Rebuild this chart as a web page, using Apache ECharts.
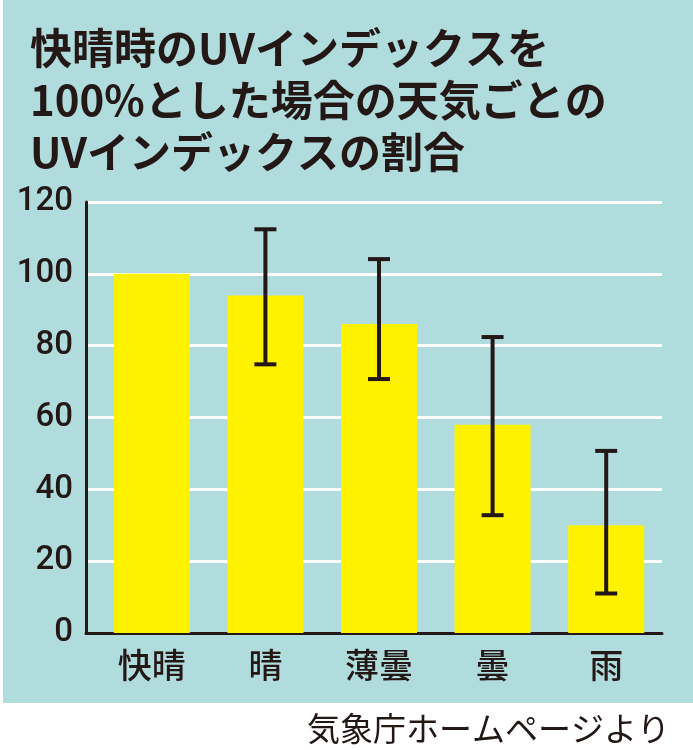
<!DOCTYPE html>
<html>
<head>
<meta charset="utf-8">
<script src="https://cdn.jsdelivr.net/npm/echarts@6/dist/echarts.min.js"></script>
<style>
html,body{margin:0;padding:0;background:#ffffff;}
#chart{width:693px;height:750px;}
</style>
</head>
<body>
<div id="chart"></div>
<script>
var titleLines = ['快晴時のUVインデックスを', '100%とした場合の天気ごとの', 'UVインデックスの割合'];
var categories = ['快晴', '晴', '薄曇', '曇', '雨'];
var values = [100, 94, 86, 58, 30];
var errLow = [null, 74.8, 70.7, 32.8, 11.0];
var errHigh = [null, 112.4, 104.1, 82.4, 50.7];
var yTicks = [0, 20, 40, 60, 80, 100, 120];
var sourceText = '気象庁ホームページより';

var teal = '#b0dcdd';
var ink = '#231816';
var yellow = '#fff200';
var cjk = '"Noto Sans CJK JP", "Noto Sans", sans-serif';
var digitFont = '"Roboto", "DejaVu Sans Condensed", sans-serif';

var errData = [];
for (var i = 0; i < categories.length; i++) {
  if (errLow[i] != null) errData.push([i, errLow[i], errHigh[i]]);
}

var chart = echarts.init(document.getElementById('chart'), null, {renderer: 'canvas'});
var gTop = 202, gHeight = 431;
chart.setOption({
  backgroundColor: '#ffffff',
  animation: false,
  graphic: [
    {type: 'rect', left: 3, top: 0, z: -10, shape: {width: 690, height: 703}, style: {fill: teal}},
    {type: 'text', left: 307, top: 712, style: {text: sourceText, font: '33px ' + cjk, fill: ink}}
  ],
  title: {
    text: titleLines.join('\n'),
    left: 25, top: 17,
    textStyle: {fontFamily: cjk, fontSize: 42, fontWeight: 'bold', lineHeight: 52, color: ink}
  },
  grid: [
    {left: 86, right: 31, top: gTop, height: gHeight},
    {left: 95, right: 30, top: gTop, height: gHeight}
  ],
  xAxis: [
    {gridIndex: 0, type: 'value', min: 0, max: 1,
     axisLine: {show: true, onZero: false, lineStyle: {color: ink, width: 3}},
     axisTick: {show: false}, axisLabel: {show: false}, splitLine: {show: false}},
    {gridIndex: 1, type: 'category', data: categories,
     axisLine: {show: false}, axisTick: {show: false},
     axisLabel: {margin: 15, fontFamily: cjk, fontSize: 34, fontWeight: 500, color: ink}}
  ],
  yAxis: [
    {gridIndex: 0, type: 'value', min: 0, max: 120, interval: 20,
     axisLine: {show: true, lineStyle: {color: ink, width: 3}},
     axisTick: {show: false},
     axisLabel: {margin: 13, fontFamily: digitFont, fontSize: 33, fontWeight: 500, color: ink,
       formatter: function (v) { return yTicks.indexOf(v) >= 0 ? String(v) : ''; }},
     splitLine: {show: true, lineStyle: {color: '#ffffff', width: 3}}},
    {gridIndex: 1, type: 'value', min: 0, max: 120, interval: 20, show: false}
  ],
  series: [
    {type: 'bar', xAxisIndex: 1, yAxisIndex: 1, data: values, barWidth: 76,
     itemStyle: {color: yellow}, z: 2},
    {type: 'custom', xAxisIndex: 1, yAxisIndex: 1, data: errData, z: 5,
     renderItem: function (params, api) {
       var x = api.value(0);
       var lo = api.coord([x, api.value(1)]);
       var hi = api.coord([x, api.value(2)]);
       var hw = 11;
       var st = {stroke: ink, lineWidth: 4};
       return {type: 'group', children: [
         {type: 'line', shape: {x1: lo[0], y1: lo[1], x2: hi[0], y2: hi[1]}, style: st},
         {type: 'line', shape: {x1: hi[0] - hw, y1: hi[1], x2: hi[0] + hw, y2: hi[1]}, style: st},
         {type: 'line', shape: {x1: lo[0] - hw, y1: lo[1], x2: lo[0] + hw, y2: lo[1]}, style: st}
       ]};
     }}
  ]
});
</script>
</body>
</html>
